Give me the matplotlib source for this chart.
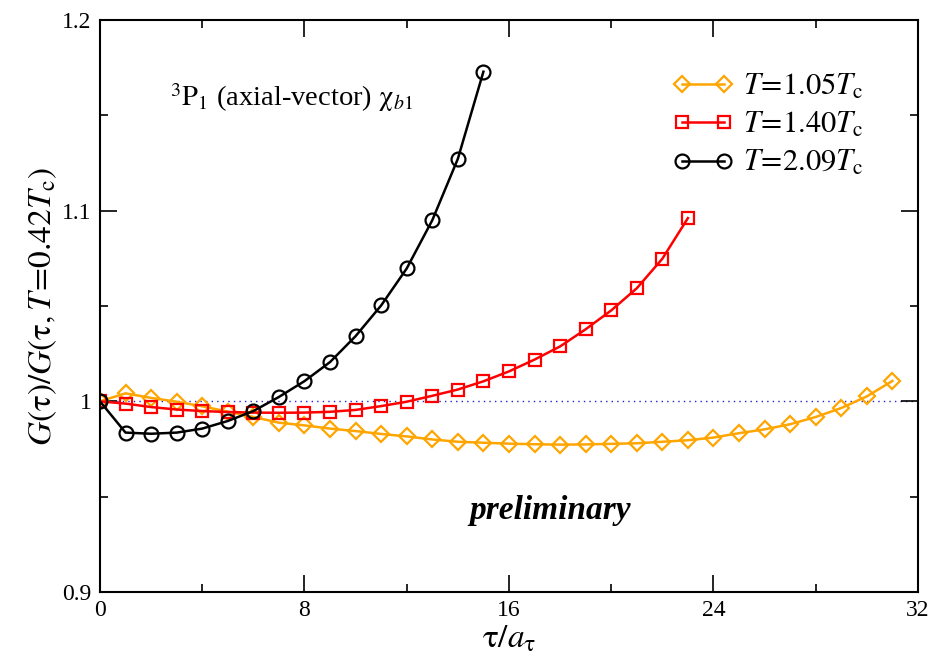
import numpy as np
import matplotlib.pyplot as plt
from matplotlib.ticker import MultipleLocator, FixedLocator, FixedFormatter

plt.rcParams['font.family'] = ['Liberation Serif', 'DejaVu Serif']
plt.rcParams['mathtext.fontset'] = 'stix'

# T = 1.05 Tc
tau_105 = np.arange(0, 32)
g_105 = [1.0, 1.0042, 1.0018, 0.9998, 0.9974, 0.9946, 0.9918, 0.9888, 0.9874, 0.9857,
         0.9844, 0.9829, 0.9816, 0.9800, 0.9788, 0.9783, 0.9778, 0.9775, 0.9773, 0.9774,
         0.9777, 0.9780, 0.9788, 0.9796, 0.9810, 0.9833, 0.9853, 0.9880, 0.9918, 0.9965,
         1.0026, 1.0107]

# T = 1.40 Tc
tau_140 = np.arange(0, 24)
g_140 = [1.0, 0.9988, 0.9970, 0.9957, 0.9949, 0.9944, 0.9941, 0.9940, 0.9941, 0.9945,
         0.9955, 0.9975, 0.9998, 1.0029, 1.0062, 1.0105, 1.0157, 1.0219, 1.0288, 1.0378,
         1.0477, 1.0593, 1.0748, 1.0961]

# T = 2.09 Tc
tau_209 = np.arange(0, 16)
g_209 = [1.0, 0.9836, 0.9830, 0.9836, 0.9857, 0.9897, 0.9949, 1.0023, 1.0106, 1.0206,
         1.0342, 1.0503, 1.0697, 1.0950, 1.1272, 1.1729]

labels = [r'$T\!\mathrm{=}\!\mathrm{1.05}T_{\mathrm{c}}$', r'$T\!\mathrm{=}\!\mathrm{1.40}T_{\mathrm{c}}$',
          r'$T\!\mathrm{=}\!\mathrm{2.09}T_{\mathrm{c}}$']

fig = plt.figure(figsize=(9.45, 6.63), dpi=100)
ax = fig.add_axes([0.1058, 0.1071, 0.8656, 0.8627])

ax.axhline(1.0, color='#2020d0', lw=1, ls=(0, (1, 3)), zorder=1)

mk = dict(markerfacecolor='none', markeredgewidth=1.6, lw=1.8)
ax.plot(tau_105, g_105, color='#FFA500', marker='D', markersize=8, label=labels[0], **mk)
ax.plot(tau_140, g_140, color='#FF0000', marker='s', markersize=9, label=labels[1], **mk)
ax.plot(tau_209, g_209, color='black', marker='o', markersize=10, label=labels[2], **mk)

ax.set_xlim(0, 32)
ax.set_ylim(0.9, 1.2)
ax.xaxis.set_major_locator(MultipleLocator(8))
ax.xaxis.set_minor_locator(MultipleLocator(4))
ax.yaxis.set_major_locator(FixedLocator([0.9, 1.0, 1.1, 1.2]))
ax.yaxis.set_major_formatter(FixedFormatter(['0.9', '1', '1.1', '1.2']))
ax.yaxis.set_minor_locator(MultipleLocator(0.05))
ax.tick_params(which='both', direction='in', top=True, right=True, labelsize=17, width=1.2)
ax.tick_params(which='major', length=12, pad=6)
ax.tick_params(which='minor', length=6)
for s in ax.spines.values():
    s.set_linewidth(1.5)

ax.set_xlabel(r'$\mathrm{\tau}/a_{\mathrm{\tau}}$', fontsize=24, labelpad=2)
ax.set_ylabel(r'$G(\mathrm{\tau})/G(\mathrm{\tau},T\!\mathrm{=}\!\mathrm{0.42}T_{\mathrm{c}})$',
              fontsize=24, labelpad=2)

ax.text(2.75, 1.155, r'$^{3}\mathrm{P}_{1}$ (axial-vector) $\mathrm{\chi}_{b1}$', fontsize=20.5)
ax.text(17.6, 0.943, 'preliminary', fontsize=24, fontweight='bold', fontstyle='italic',
        ha='center', va='center')

ax.legend(loc='upper right', bbox_to_anchor=(0.948, 0.93), frameon=False, fontsize=22,
          numpoints=2, handlelength=2.0, handletextpad=0.3, labelspacing=0.3, borderaxespad=0)

fig.savefig('out.png', dpi=100)
